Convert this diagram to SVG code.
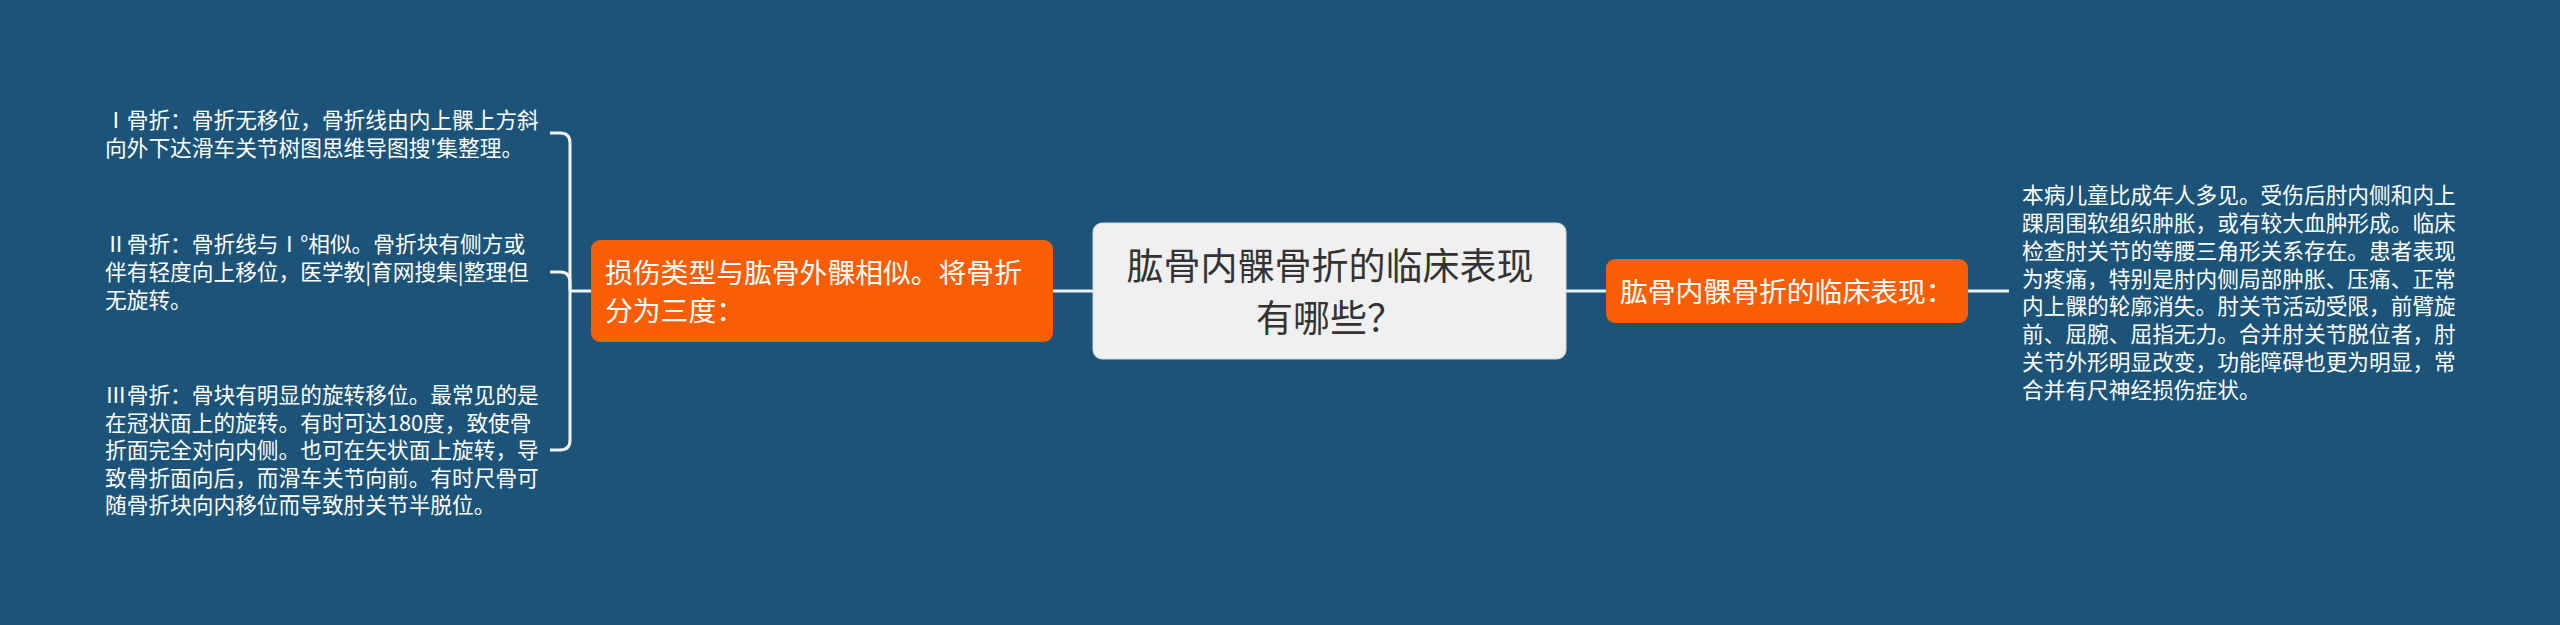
<svg xmlns="http://www.w3.org/2000/svg" width="2560" height="625" viewBox="0 0 2560 625">
<style>
.bg{fill:#1b5478}
.conn{fill:none;stroke:#f2f2f2;stroke-width:3;stroke-linecap:butt}
.orange{fill:#fa5e05}
.root{fill:#f0f0f0;stroke:#d8d8d8;stroke-width:1}
text{font-family:"Noto Sans CJK SC","Noto Sans",sans-serif}
.leaf{fill:#ffffff;font-size:21.7px}
.otext{fill:#ffffff;font-size:27.8px}
.rtext{fill:#333333;font-size:37px}
</style>
<rect class="bg" x="0" y="0" width="2560" height="625"/>
<g id="connectors">
<path class="conn" d="M1093 291 H1053"/>
<path class="conn" d="M591 291 H570"/>
<path class="conn" d="M570 291 V143 Q570 133 560 133 H550"/>
<path class="conn" d="M570 291 V282 Q570 272 560 272 H550"/>
<path class="conn" d="M570 291 V440 Q570 450 560 450 H550"/>
<path class="conn" d="M1566 291 H1606"/>
<path class="conn" d="M1968 291 H2009"/>
</g>
<g id="root">
<rect class="root" x="1093" y="223" width="473" height="136" rx="9"/>
<text class="rtext" x="1330" y="280" text-anchor="middle">肱骨内髁骨折的临床表现</text>
<text class="rtext" x="1330" y="332" text-anchor="middle">有哪些？</text>
</g>
<g id="left-branch">
<rect class="orange" x="591" y="240" width="462" height="102" rx="9"/>
<text class="otext" x="605" y="283">损伤类型与肱骨外髁相似。将骨折</text>
<text class="otext" x="605" y="321">分为三度：</text>
</g>
<g id="leaf-1">
<text class="leaf" x="105" y="128">Ⅰ骨折：骨折无移位，骨折线由内上髁上方斜</text>
<text class="leaf" x="105" y="156">向外下达滑车关节树图思维导图搜'集整理。</text>
</g>
<g id="leaf-2">
<text class="leaf" x="105" y="252">Ⅱ骨折：骨折线与Ⅰ°相似。骨折块有侧方或</text>
<text class="leaf" x="105" y="280">伴有轻度向上移位，医学教|育网搜集|整理但</text>
<text class="leaf" x="105" y="308">无旋转。</text>
</g>
<g id="leaf-3">
<text class="leaf" x="105" y="403">Ⅲ骨折：骨块有明显的旋转移位。最常见的是</text>
<text class="leaf" x="105" y="430.5">在冠状面上的旋转。有时可达180度，致使骨</text>
<text class="leaf" x="105" y="458">折面完全对向内侧。也可在矢状面上旋转，导</text>
<text class="leaf" x="105" y="485.5">致骨折面向后，而滑车关节向前。有时尺骨可</text>
<text class="leaf" x="105" y="513">随骨折块向内移位而导致肘关节半脱位。</text>
</g>
<g id="right-branch">
<rect class="orange" x="1606" y="259" width="362" height="64" rx="9"/>
<text class="otext" x="1620" y="302">肱骨内髁骨折的临床表现：</text>
</g>
<g id="leaf-right">
<text class="leaf" x="2022" y="203">本病儿童比成年人多见。受伤后肘内侧和内上</text>
<text class="leaf" x="2022" y="231">踝周围软组织肿胀，或有较大血肿形成。临床</text>
<text class="leaf" x="2022" y="259">检查肘关节的等腰三角形关系存在。患者表现</text>
<text class="leaf" x="2022" y="287">为疼痛，特别是肘内侧局部肿胀、压痛、正常</text>
<text class="leaf" x="2022" y="314">内上髁的轮廓消失。肘关节活动受限，前臂旋</text>
<text class="leaf" x="2022" y="342">前、屈腕、屈指无力。合并肘关节脱位者，肘</text>
<text class="leaf" x="2022" y="370">关节外形明显改变，功能障碍也更为明显，常</text>
<text class="leaf" x="2022" y="398">合并有尺神经损伤症状。</text>
</g>
</svg>
